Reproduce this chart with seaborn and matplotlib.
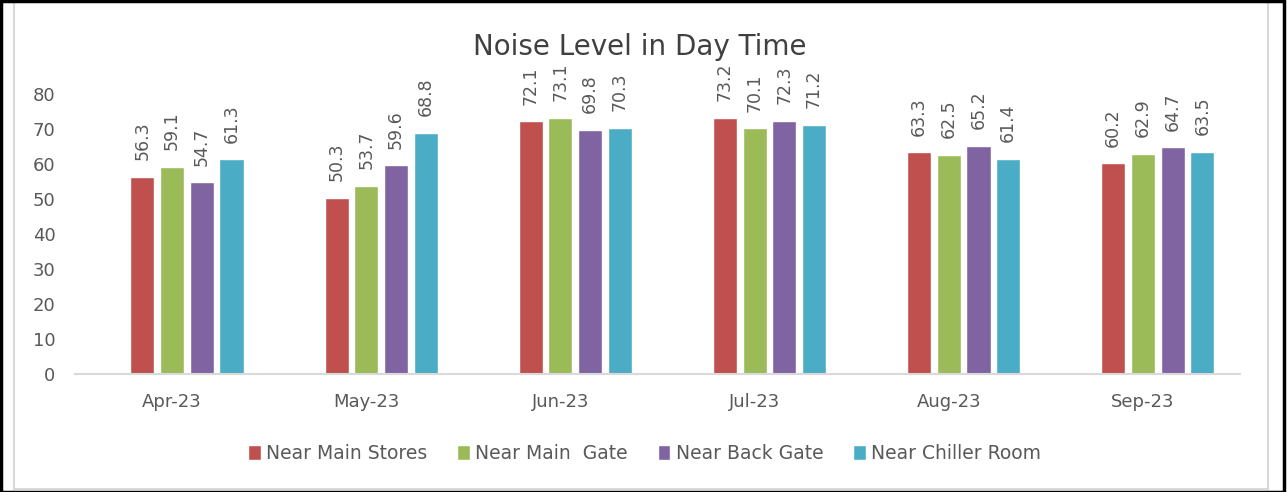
import numpy as np
import pandas as pd
import matplotlib
matplotlib.use("Agg")
import matplotlib.pyplot as plt
import seaborn as sns

# Monthly noise readings, dB(A)
months = ["Apr-23", "May-23", "Jun-23", "Jul-23", "Aug-23", "Sep-23"]
locations = ["Near Main Stores", "Near Main  Gate", "Near Back Gate", "Near Chiller Room"]
main_stores = [56.3, 50.3, 72.1, 73.2, 63.3, 60.2]
main_gate = [59.1, 53.7, 73.1, 70.1, 62.5, 62.9]
back_gate = [54.7, 59.6, 69.8, 72.3, 65.2, 64.7]
chiller_room = [61.3, 68.8, 70.3, 71.2, 61.4, 63.5]

colors = ["#C0504D", "#9BBB59", "#8064A2", "#4BACC6"]
text_col = "#595959"

df = pd.DataFrame({
    "month": months * 4,
    "location": np.repeat(locations, len(months)),
    "value": main_stores + main_gate + back_gate + chiller_room,
})

# the source sheet has an empty leading series, so the bars sit right of centre
blank = "_blank"
palette = dict(zip([blank] + locations, ["white"] + colors))

sns.set_style("white")
plt.rcParams["font.family"] = ["DejaVu Sans"]

fig = plt.figure(figsize=(12.87, 4.92), dpi=100)
ax = fig.add_axes([0.0583, 0.2398, 0.9052, 0.5695])

sns.barplot(data=df, x="month", y="value", hue="location",
            hue_order=[blank] + locations, palette=palette,
            saturation=1, width=0.765, gap=0.19, ax=ax, legend=True)

for cont in ax.containers:
    if len(cont) and not np.isnan(cont[0].get_height()):
        ax.bar_label(cont, fmt="%.1f", rotation=90, padding=12, fontsize=12.5, color=text_col)

ax.set_ylim(0, 80)
ax.set_yticks(range(0, 81, 10))
ax.set_xlim(-0.5, 5.5)
ax.set_xlabel("")
ax.set_ylabel("")
fig.text(0.497, 0.905, "Noise Level in Day Time", fontsize=20, color="#404040",
         ha="center", va="center")

for s in ["top", "right", "left"]:
    ax.spines[s].set_visible(False)
ax.spines["bottom"].set_color("#D9D9D9")
ax.spines["bottom"].set_linewidth(1.5)

ax.tick_params(axis="y", length=0, labelsize=13, labelcolor=text_col, pad=14)
ax.tick_params(axis="x", length=0, labelsize=13, labelcolor=text_col, pad=14)
# category boundary ticks
ax.set_xticks(np.arange(-0.5, 6.0, 1.0), minor=True)
ax.tick_params(axis="x", which="minor", length=6, color="#D9D9D9", width=1.5)

h, l = ax.get_legend_handles_labels()
ax.get_legend().remove()
keep = [i for i, lab in enumerate(l) if lab != blank]
fig.legend([h[i] for i in keep], [l[i] for i in keep], loc="center",
           bbox_to_anchor=(0.501, 0.079), ncol=4, frameon=False,
           fontsize=13.5, labelcolor=text_col, handlelength=0.65, handleheight=0.85,
           handletextpad=0.3, columnspacing=1.6)

# chart area and outer frame
fig.patches.append(plt.Rectangle((0.011, 0.006), 0.974, 0.99, transform=fig.transFigure,
                                 fill=False, edgecolor="#D9D9D9", linewidth=1.5))
fig.patches.append(plt.Rectangle((0.001, 0.001), 0.997, 0.997, transform=fig.transFigure,
                                 fill=False, edgecolor="black", linewidth=2.5))

fig.savefig("out.png", dpi=100)
